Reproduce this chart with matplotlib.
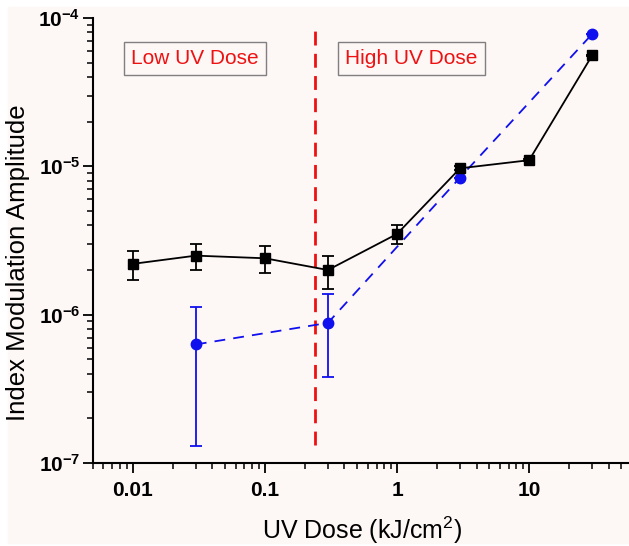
import matplotlib.pyplot as plt
from matplotlib.patches import Rectangle

# --- data ---
dose_black = [0.01, 0.03, 0.1, 0.3, 1, 3, 10, 30]
amp_black = [2.2e-6, 2.5e-6, 2.4e-6, 2.0e-6, 3.5e-6, 9.7e-6, 1.1e-5, 5.6e-5]
err_black = [0.5e-6, 0.5e-6, 0.5e-6, 0.5e-6, 0.5e-6, 0.3e-6, 0.2e-6, 0.5e-6]

dose_blue = [0.03, 0.3, 3, 30]
amp_blue = [6.3e-7, 8.8e-7, 8.4e-6, 7.8e-5]
err_blue_low = [5.0e-7, 5.0e-7, 0.0, 0.0]
err_blue_high = [5.0e-7, 5.0e-7, 0.0, 0.0]

threshold_dose = 0.24
region_labels = ['Low UV Dose', 'High UV Dose']

plt.rcParams['font.family'] = ['Liberation Sans', 'DejaVu Sans']
plt.rcParams['mathtext.fontset'] = 'custom'
plt.rcParams['mathtext.rm'] = 'Liberation Sans'
plt.rcParams['mathtext.bf'] = 'Liberation Sans:bold'

bg = '#fdf7f6'
fig = plt.figure(figsize=(6.29, 5.46), dpi=100, facecolor='white')
fig.patches.append(Rectangle((8 / 629, 3 / 546), 1, 1 - 10 / 546,
                             transform=fig.transFigure, color=bg, zorder=-10))
ax = fig.add_axes([93 / 629, 83 / 546, 1 - 93 / 629, 445 / 546])
ax.set_facecolor(bg)

ax.errorbar(dose_black, amp_black, yerr=err_black, color='black', marker='s',
            ms=7, lw=1.3, elinewidth=1.3, capsize=4, capthick=1.3, zorder=3)
ax.errorbar(dose_blue, amp_blue, yerr=[err_blue_low, err_blue_high], color='#1010ee',
            marker='o', ms=7.5, lw=1.3, ls=(0, (6, 4.5)), elinewidth=1.3,
            capsize=4, capthick=1.3, zorder=2)

ax.plot([threshold_dose, threshold_dose], [1.32e-7, 8.4e-5], color='#ee1111',
        lw=2.0, ls=(0, (5, 3)), zorder=1)

ax.set_xscale('log')
ax.set_yscale('log')
ax.set_xlim(0.005, 57)
ax.set_ylim(1e-7, 1e-4)

ax.set_xticks([0.01, 0.1, 1, 10])
ax.set_xticklabels(['0.01', '0.1', '1', '10'])
ax.set_yticks([1e-7, 1e-6, 1e-5, 1e-4])
ax.set_yticklabels([r'$\mathbf{10^{-7}}$', r'$\mathbf{10^{-6}}$',
                    r'$\mathbf{10^{-5}}$', r'$\mathbf{10^{-4}}$'])

for lab in ax.get_xticklabels() + ax.get_yticklabels():
    lab.set_fontweight('bold')
    lab.set_fontsize(15)

ax.tick_params(which='major', direction='out', length=7, width=1.3, pad=6)
ax.tick_params(which='minor', direction='out', length=4, width=1.1)
ax.tick_params(axis='y', which='major', pad=2)

for side in ['top', 'right']:
    ax.spines[side].set_visible(False)
for side in ['left', 'bottom']:
    ax.spines[side].set_linewidth(1.5)

ax.set_xlabel('UV Dose (kJ/cm$^2$)', fontsize=18)
ax.set_ylabel('Index Modulation Amplitude', fontsize=18.5)
ax.xaxis.set_label_coords(0.502, -0.115)
ax.yaxis.set_label_coords(-0.118, 0.45)

box = dict(boxstyle='square,pad=0.35', facecolor=bg, edgecolor='#808080', lw=1.0)
ax.text(0.0297, 5.35e-5, region_labels[0], color='#ee1111', fontsize=15,
        ha='center', va='center', bbox=box)
ax.text(1.29, 5.35e-5, region_labels[1], color='#ee1111', fontsize=15,
        ha='center', va='center', bbox=box)

fig.savefig('out.png', dpi=100, facecolor='white')
